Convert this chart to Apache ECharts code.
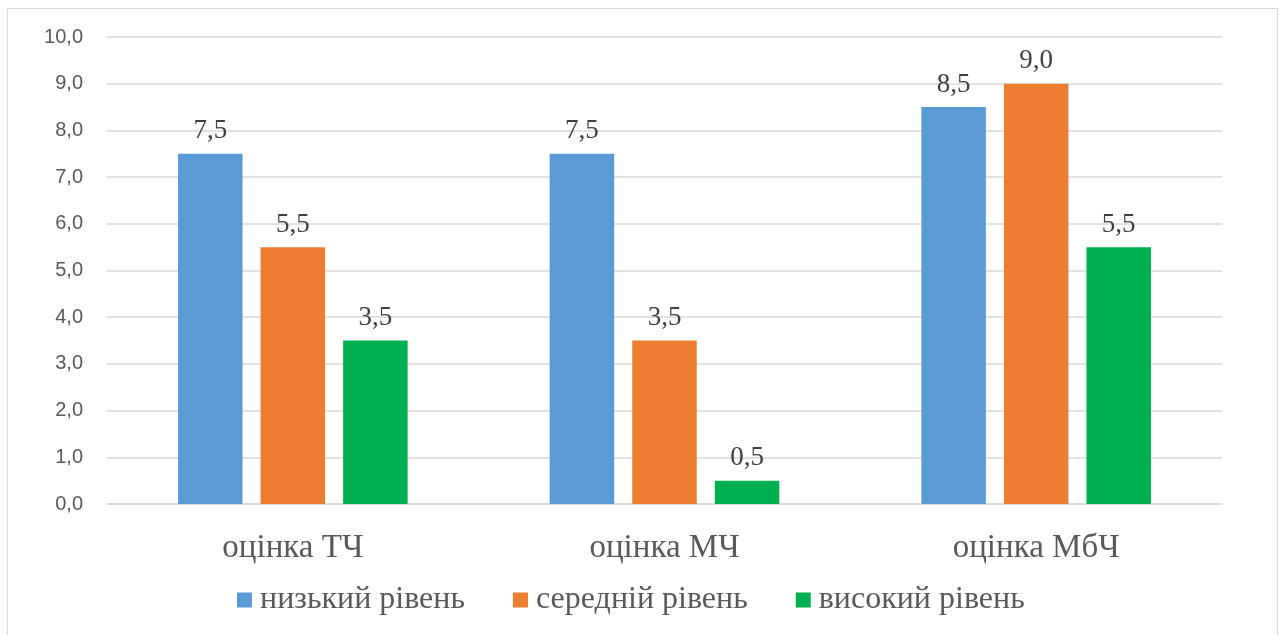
<!DOCTYPE html>
<html>
<head>
<meta charset="utf-8">
<script src="https://cdn.jsdelivr.net/npm/echarts@6/dist/echarts.min.js"></script>
<style>
html,body{margin:0;padding:0;background:#fff;}
#chart{position:absolute;left:0;top:0;width:1282px;height:635px;}
#frame{position:absolute;left:7px;top:8px;width:1269px;height:640px;border:1.5px solid #d9d9d9;pointer-events:none;}
</style>
</head>
<body>
<div id="chart"></div>
<div id="frame"></div>
<script>
const categories = ['оцінка ТЧ', 'оцінка МЧ', 'оцінка МбЧ'];
const seriesNames = ['низький рівень', 'середній рівень', 'високий рівень'];
const lowLevel = [7.5, 7.5, 8.5];
const midLevel = [5.5, 3.5, 9.0];
const highLevel = [3.5, 0.5, 5.5];
const yTicks = [0, 1, 2, 3, 4, 5, 6, 7, 8, 9, 10];

const colors = ['#5B9BD5', '#ED7D31', '#00B050'];
const serif = '"Liberation Serif", "DejaVu Serif", serif';
const sans = '"Liberation Sans", Arial, sans-serif';
const fmt = v => Number(v).toFixed(1).replace('.', ',');

const chart = echarts.init(document.getElementById('chart'), null, {renderer: 'canvas'});
const dataSets = [lowLevel, midLevel, highLevel];
chart.setOption({
  animation: false,
  color: colors,
  grid: {left: 107, right: 60, top: 37, bottom: 131, containLabel: false},
  legend: {
    data: seriesNames,
    top: 579,
    left: 232,
    itemWidth: 15,
    itemHeight: 15,
    itemGap: 48,
    icon: 'rect',
    textStyle: {fontFamily: serif, fontSize: 32, color: '#595959', padding: [0, 0, 0, 3]}
  },
  xAxis: {
    type: 'category',
    data: categories,
    axisLine: {show: true, lineStyle: {color: '#d9d9d9', width: 1.5}},
    axisTick: {show: false},
    axisLabel: {fontFamily: serif, fontSize: 33, color: '#595959', margin: 28}
  },
  yAxis: {
    type: 'value',
    min: yTicks[0],
    max: yTicks[yTicks.length - 1],
    interval: 1,
    axisLine: {show: false},
    axisTick: {show: false},
    splitLine: {lineStyle: {color: '#d9d9d9', width: 1.5}},
    axisLabel: {fontFamily: sans, fontSize: 20, color: '#595959', margin: 24, formatter: fmt}
  },
  series: seriesNames.map((name, i) => ({
    name: name,
    type: 'bar',
    data: dataSets[i],
    barWidth: 64.5,
    barGap: '28%',
    itemStyle: {color: colors[i]},
    label: {
      show: true,
      position: 'top',
      distance: 9,
      fontFamily: serif,
      fontSize: 27,
      color: '#404040',
      formatter: p => fmt(p.value)
    }
  }))
});
</script>
</body>
</html>
